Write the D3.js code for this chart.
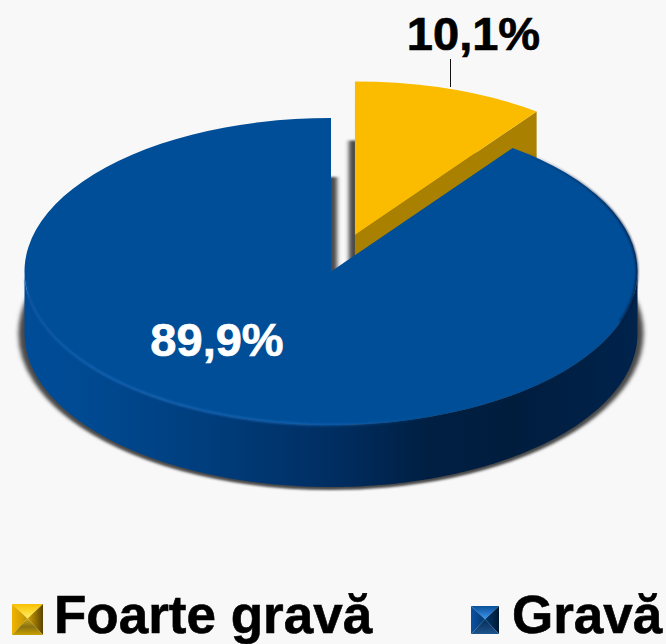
<!DOCTYPE html>
<html>
<head>
<meta charset="utf-8">
<script src="https://cdn.jsdelivr.net/npm/d3@7/dist/d3.min.js"></script>
<style>
html,body{margin:0;padding:0;background:#f8f8f8;overflow:hidden}
text{font-family:"Liberation Sans",Arial,sans-serif;font-weight:700}
</style>
</head>
<body>
<script>
const categories = ["Foarte gravă", "Gravă"];
const seriesValues = [10.1, 89.9];
const valueLabels = ["10,1%", "89,9%"];
const topColors = ["#fbbc00", "#004e98"];

const W = 666, H = 644;
const cx = 331, cy = 271.5, rx = 306.5, ry = 153.5, depth = 62, explode = 0.25;
const ky = ry / rx;

const svg = d3.select("body").append("svg").attr("width", W).attr("height", H).style("display", "block");
svg.append("rect").attr("width", W).attr("height", H).attr("fill", "#f8f8f8");
const defs = svg.append("defs");

defs.append("filter").attr("id", "blur").attr("x", "-10%").attr("y", "-10%").attr("width", "120%").attr("height", "120%")
  .append("feGaussianBlur").attr("stdDeviation", 2);
defs.append("filter").attr("id", "soft").attr("x", "-10%").attr("y", "-10%").attr("width", "120%").attr("height", "120%")
  .append("feGaussianBlur").attr("stdDeviation", 0.8);

function addStops(g, stops) {
  stops.forEach(s => g.append("stop").attr("offset", s[0]).attr("stop-color", s[1]).attr("stop-opacity", s[2] === undefined ? 1 : s[2]));
}
function hGrad(id, stops) {
  addStops(defs.append("linearGradient").attr("id", id).attr("gradientUnits", "userSpaceOnUse")
    .attr("x1", -rx).attr("x2", rx).attr("y1", 0).attr("y2", 0), stops);
}
function boxGrad(id, x1, y1, x2, y2, stops) {
  addStops(defs.append("linearGradient").attr("id", id)
    .attr("x1", x1).attr("y1", y1).attr("x2", x2).attr("y2", y2), stops);
}
hGrad("sideBlue", [[0, "#004c98"], [0.1, "#004a92"], [0.3, "#003d7c"], [0.5, "#002e62"], [0.66, "#001f42"], [0.8, "#001d3e"], [1, "#00234c"]]);
hGrad("rimLight", [[0, "#1a66b8", 0.5], [0.12, "#1a66b8", 1], [0.45, "#1a66b8", 0.9], [0.68, "#1a66b8", 0], [1, "#1a66b8", 0]]);
hGrad("rimDark", [[0, "#001f42", 0], [0.8, "#001f42", 0], [1, "#001a38", 0.9]]);

const pieGen = d3.pie().sort(null).startAngle(0).endAngle(2 * Math.PI);
const arcs = pieGen(seriesValues);
const arcGen = d3.arc().innerRadius(0).outerRadius(rx);
const pt = (a, r = rx) => [r * Math.sin(a), -r * Math.cos(a) * ky];

const offsets = arcs.map((d, i) => {
  if (i !== 0) return [0, 0];
  const m = (d.startAngle + d.endAngle) / 2;
  return pt(m, rx * explode);
});

// shadows
arcs.slice().reverse().forEach(d => {
  const o = offsets[d.index];
  svg.append("path").attr("d", arcGen(d))
    .attr("transform", `translate(${cx + o[0]},${cy + o[1] + depth}) scale(1,${ky})`)
    .attr("fill", "#4a4a4a").attr("stroke", "#4a4a4a").attr("stroke-width", 12)
    .attr("filter", "url(#blur)");
});

// gold slice: cut face + top
{
  const d = arcs[0], o = offsets[0];
  const g = svg.append("g").attr("transform", `translate(${cx + o[0]},${cy + o[1]})`);
  const tip = pt(d.endAngle);
  g.append("path").attr("d", d3.line()([[0, 0], tip, [tip[0], tip[1] + depth], [0, depth]]) + "Z").attr("fill", "#a98000");
  g.append("path").attr("d", arcGen(d)).attr("transform", `scale(1,${ky})`).attr("fill", topColors[0]);
}

// blue slice: rim + top
{
  const d = arcs[1];
  const g = svg.append("g").attr("transform", `translate(${cx},${cy})`);
  const angles = d3.range(90, 270.5, 1).map(a => a * Math.PI / 180);
  const upper = angles.map(a => pt(a));
  const lower = angles.slice().reverse().map(a => { const p = pt(a); return [p[0], p[1] + depth]; });
  g.append("path").attr("d", d3.line()(upper.concat(lower)) + "Z").attr("fill", "url(#sideBlue)");
  g.append("path").attr("d", arcGen(d)).attr("transform", `scale(1,${ky})`).attr("fill", topColors[1]);
  // highlight along the front edge of the top face
  const rim = d3.range(96, 268, 1).map(a => pt(a * Math.PI / 180, rx - 0.5));
  g.append("path").attr("d", d3.line()(rim))
    .attr("fill", "none").attr("stroke", "url(#rimLight)").attr("stroke-width", 2).attr("filter", "url(#soft)");
  const edge = d3.range(40, 110, 1).map(a => pt(a * Math.PI / 180, rx - 0.5));
  g.append("path").attr("d", d3.line()(edge))
    .attr("fill", "none").attr("stroke", "url(#rimDark)").attr("stroke-width", 2).attr("filter", "url(#soft)");
}

// leader + value labels
svg.append("line").attr("x1", 450.5).attr("x2", 450.5).attr("y1", 59).attr("y2", 87).attr("stroke", "#111").attr("stroke-width", 1);
svg.append("text").attr("x", 473.5).attr("y", 50).attr("text-anchor", "middle").attr("font-size", 47)
  .attr("fill", "#000").attr("stroke", "#000").attr("stroke-width", 0.7).text(valueLabels[0]);
svg.append("text").attr("x", 217).attr("y", 356).attr("text-anchor", "middle").attr("font-size", 47)
  .attr("fill", "#fff").attr("stroke", "#fff").attr("stroke-width", 0.7).text(valueLabels[1]);

// legend
const legendX = [12, 471], legendS = [31, 28], legendY = [604, 606], legendTextX = [54, 512];
const markerFaces = [
  { t: ["#f8c000", "#fff060"], l: ["#f0b400", "#c09400"], r: ["#d0a000", "#5c4400"], b: ["#c8a818", "#8a7210", "#c8a000"] },
  { t: ["#0a4f98", "#3f98f0"], l: ["#0b52a4", "#003870"], r: ["#003870", "#001830"], b: ["#00305e", "#123f70", "#1c5590"] }
];
markerFaces.forEach((f, i) => {
  boxGrad(`mt${i}`, 0, 0, 0, 1, [[0, f.t[0]], [1, f.t[1]]]);
  boxGrad(`ml${i}`, 0, 0, 1, 0, [[0, f.l[0]], [1, f.l[1]]]);
  boxGrad(`mr${i}`, 0, 0, 1, 0, [[0, f.r[0]], [1, f.r[1]]]);
  boxGrad(`mb${i}`, 0, 0, 0, 1, [[0, f.b[0]], [0.5, f.b[1]], [1, f.b[2]]]);
});
categories.forEach((name, i) => {
  const x = legendX[i], y = legendY[i], s = legendS[i], c = [s / 2, s * 0.47];
  const g = svg.append("g").attr("transform", `translate(${x},${y})`);
  const poly = (pts, fill) => g.append("path").attr("d", d3.line()(pts) + "Z").attr("fill", fill);
  poly([[0, 0], [s, 0], c], `url(#mt${i})`);
  poly([[0, 0], c, [0, s]], `url(#ml${i})`);
  poly([[s, 0], c, [s, s]], `url(#mr${i})`);
  poly([[0, s], c, [s, s]], `url(#mb${i})`);
  svg.append("text").attr("x", legendTextX[i]).attr("y", 632.7).attr("font-size", 53)
    .attr("fill", "#000").attr("stroke", "#000").attr("stroke-width", 0.6).text(name);
});
</script>
</body>
</html>
